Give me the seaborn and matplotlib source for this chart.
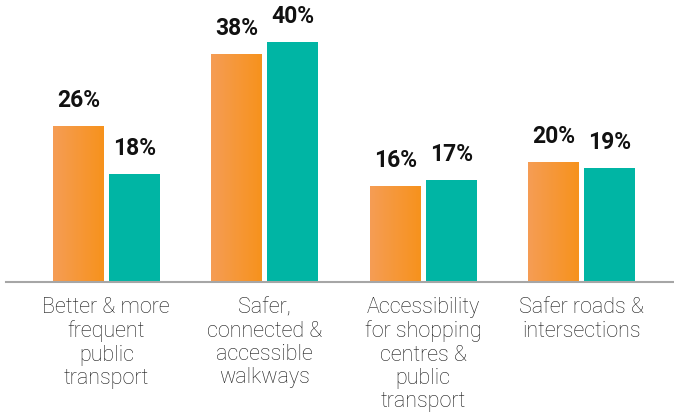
import numpy as np
import pandas as pd
import matplotlib
matplotlib.use("Agg")
import matplotlib.pyplot as plt
from matplotlib.colors import LinearSegmentedColormap
import seaborn as sns

categories = [
    "Better & more\nfrequent\npublic\ntransport",
    "Safer,\nconnected &\naccessible\nwalkways",
    "Accessibility\nfor shopping\ncentres &\npublic\ntransport",
    "Safer roads &\nintersections",
]
series_names = ["Series A", "Series B"]
series_a = [26, 38, 16, 20]
series_b = [18, 40, 17, 19]

orange_light = "#F59D55"
orange_dark = "#F7921C"
teal = "#00B5A4"

df = pd.DataFrame({
    "category": categories * 2,
    "series": [series_names[0]] * 4 + [series_names[1]] * 4,
    "value": series_a + series_b,
})

sns.set_theme(style="white")
plt.rcParams["font.family"] = ["Roboto", "DejaVu Sans"]

fig = plt.figure(figsize=(6.74, 4.13), dpi=100)
ax = fig.add_axes([6 / 674, 1 - 282 / 413, 1 - 6 / 674, 270 / 413])

sns.barplot(
    data=df, x="category", y="value", hue="series",
    order=categories, hue_order=series_names,
    palette=[orange_dark, teal], width=0.706, gap=0.09,
    legend=False, ax=ax, saturation=1,
)

# Horizontal orange gradient, clipped to each bar of the first series
grad = LinearSegmentedColormap.from_list("og", [orange_light, orange_dark])
ramp = np.linspace(0, 1, 256).reshape(1, -1)
bars = ax.patches
for i, p in enumerate(bars):
    p.set_edgecolor("none")
    x0, y0 = p.get_x(), p.get_y()
    w, h = p.get_width(), p.get_height()
    top = y0 + h
    if i < len(categories):
        im = ax.imshow(ramp, cmap=grad, aspect="auto",
                       extent=[x0, x0 + w, y0, top], zorder=p.get_zorder() + 0.1,
                       interpolation="bicubic")
        im.set_clip_path(p)
    ax.annotate(f"{int(round(h))}%", (x0 + w / 2, top), xytext=(0, 10),
                textcoords="offset points", ha="center", va="bottom",
                fontsize=16.5, fontweight="bold", color="#111111")

ax.set_xlim(-0.633, 3.583)
ax.set_ylim(0, 45)

for s in ["top", "right", "left"]:
    ax.spines[s].set_visible(False)
ax.spines["bottom"].set_color("#A6A6A6")
ax.spines["bottom"].set_linewidth(1.5)

ax.set_yticks([])
ax.set_xlabel("")
ax.set_ylabel("")
ax.tick_params(axis="x", length=0, pad=11)
ax.set_xticks(range(len(categories)))
ax.set_xticklabels(categories, fontsize=15.5, fontweight="light",
                   color="#1A1A1A", linespacing=1.14, va="top")

fig.savefig("out.png", dpi=100)
